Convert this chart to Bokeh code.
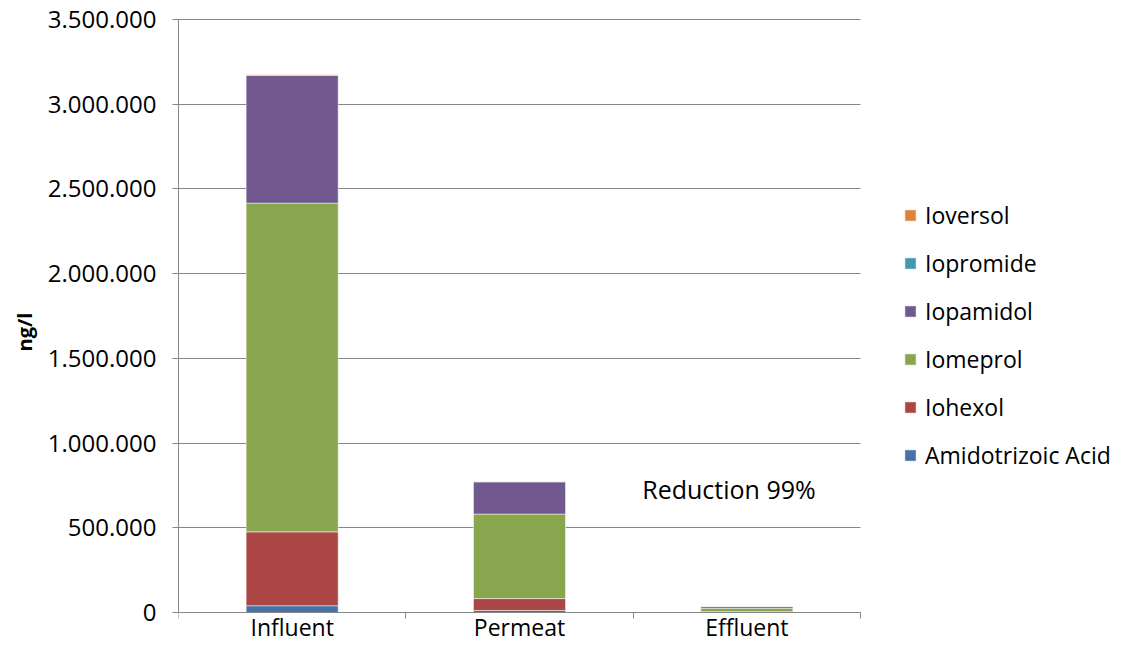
from bokeh.plotting import figure
from bokeh.models import ColumnDataSource, FixedTicker, Legend, LegendItem, Range1d, Label
from bokeh.embed import file_html
from bokeh.resources import INLINE

# ---- data ----
categories = ["Influent", "Permeat", "Effluent"]
series_names = ["Amidotrizoic Acid", "Iohexol", "Iomeprol", "Iopamidol", "Iopromide", "Ioversol"]
amidotrizoic_acid = [40000, 12000, 2000]
iohexol = [436000, 70000, 3000]
iomeprol = [1940000, 499000, 20000]
iopamidol = [755000, 190000, 10000]
iopromide = [2000, 2000, 1000]
ioversol = [2000, 2000, 1000]
series_values = [amidotrizoic_acid, iohexol, iomeprol, iopamidol, iopromide, ioversol]
colors = ["#4572A7", "#AA4643", "#89A54E", "#71588F", "#4198AF", "#DB843D"]
y_ticks = [0, 500000, 1000000, 1500000, 2000000, 2500000, 3000000, 3500000]
y_tick_labels = ["0", "500.000", "1.000.000", "1.500.000", "2.000.000", "2.500.000", "3.000.000", "3.500.000"]
annotation_text = "Reduction 99%"
y_label = "ng/l"

FONT = "Open Sans"
N = len(categories)
x_pos = [i + 0.5 for i in range(N)]
Y_MAX = y_ticks[-1]

# Layout: the frame spans to the right and bottom edges, so the legend and the
# category labels (drawn with an axis fixed at y=0) are not clipped.
W, H = 1111, 645
LEFT, TOP = 178, 18
PLOT_W, PLOT_H = 682, 593          # px of the category area / 0..Y_MAX span
PAD_TOP = 1                        # px above the top gridline so it is not clipped
x_end = N * (W - LEFT) / PLOT_W
px = Y_MAX / PLOT_H
y_end = Y_MAX + PAD_TOP * px
y_start = -(H - TOP - PLOT_H - PAD_TOP) * px

p = figure(width=W, height=H, output_backend="svg", toolbar_location=None,
           x_range=Range1d(0, x_end), y_range=Range1d(y_start, y_end),
           min_border_left=LEFT, min_border_right=0, min_border_top=TOP, min_border_bottom=0)
p.outline_line_color = None
p.background_fill_color = "white"
p.border_fill_color = "white"

renderers = []
bottom = [0] * N
for name, vals, col in zip(series_names, series_values, colors):
    top = [b + v for b, v in zip(bottom, vals)]
    src = ColumnDataSource(dict(x=x_pos, bottom=bottom, top=top))
    r = p.vbar(x="x", bottom="bottom", top="top", width=0.405, source=src,
               fill_color=col, line_color="white", line_alpha=0.5, line_width=1)
    renderers.append((name, r))
    bottom = top

# grid (only across the category area)
p.xgrid.grid_line_color = None
p.ygrid.ticker = FixedTicker(ticks=y_ticks)
p.ygrid.grid_line_color = "#868686"
p.ygrid.grid_line_width = 1
try:
    p.ygrid.cross_bounds = (0, N)
except Exception:
    p.ygrid.grid_line_color = None
    p.segment(x0=[0] * len(y_ticks), x1=[N] * len(y_ticks), y0=y_ticks, y1=y_ticks,
              line_color="#868686", line_width=1, level="underlay")

# y axis
p.yaxis.ticker = FixedTicker(ticks=y_ticks)
p.yaxis.bounds = (0, Y_MAX)
p.yaxis.major_label_overrides = {t: l for t, l in zip(y_ticks, y_tick_labels)}
p.yaxis.axis_line_color = "#868686"
p.yaxis.major_tick_line_color = "#868686"
p.yaxis.major_tick_out = 6
p.yaxis.major_tick_in = 0
p.yaxis.minor_tick_line_color = None
p.yaxis.major_label_text_font = FONT
p.yaxis.major_label_text_font_size = "24px"
p.yaxis.major_label_text_color = "#000000"
p.yaxis.major_label_standoff = 16
p.yaxis.axis_label = y_label
p.yaxis.axis_label_text_font = FONT
p.yaxis.axis_label_text_font_style = "bold"
p.yaxis.axis_label_text_font_size = "20px"
p.yaxis.axis_label_text_color = "#000000"
p.yaxis.axis_label_standoff = 7

# x axis: fixed at y=0, labels at centers, ticks at category boundaries
p.xaxis.fixed_location = 0
p.xaxis.ticker = FixedTicker(ticks=x_pos, minor_ticks=list(range(N + 1)))
p.xaxis.major_label_overrides = {x: c for x, c in zip(x_pos, categories)}
p.xaxis.bounds = (0, N)
p.xaxis.major_tick_line_color = None
p.xaxis.minor_tick_line_color = "#868686"
p.xaxis.minor_tick_out = 6
p.xaxis.minor_tick_in = 0
p.xaxis.axis_line_color = "#868686"
p.xaxis.major_label_text_font = FONT
p.xaxis.major_label_text_font_size = "23px"
p.xaxis.major_label_text_color = "#000000"
p.xaxis.major_label_standoff = -8

# annotation
p.add_layout(Label(x=2.04, y=729000, text=annotation_text, text_font=FONT,
                   text_font_size="25px", text_color="#000000", text_baseline="middle",
                   text_align="left"))

# legend (reverse order, top = last series)
items = [LegendItem(label=n, renderers=[r]) for n, r in reversed(renderers)]
legend = Legend(items=items, location=(725, 174), orientation="vertical",
                label_text_font=FONT, label_text_font_size="23px", label_text_color="#000000",
                glyph_width=14, glyph_height=14, label_height=20, spacing=16,
                padding=0, margin=0, border_line_color=None, background_fill_alpha=0,
                label_standoff=8)
p.add_layout(legend, "center")

open("out.html", "w").write(file_html(p, INLINE))
